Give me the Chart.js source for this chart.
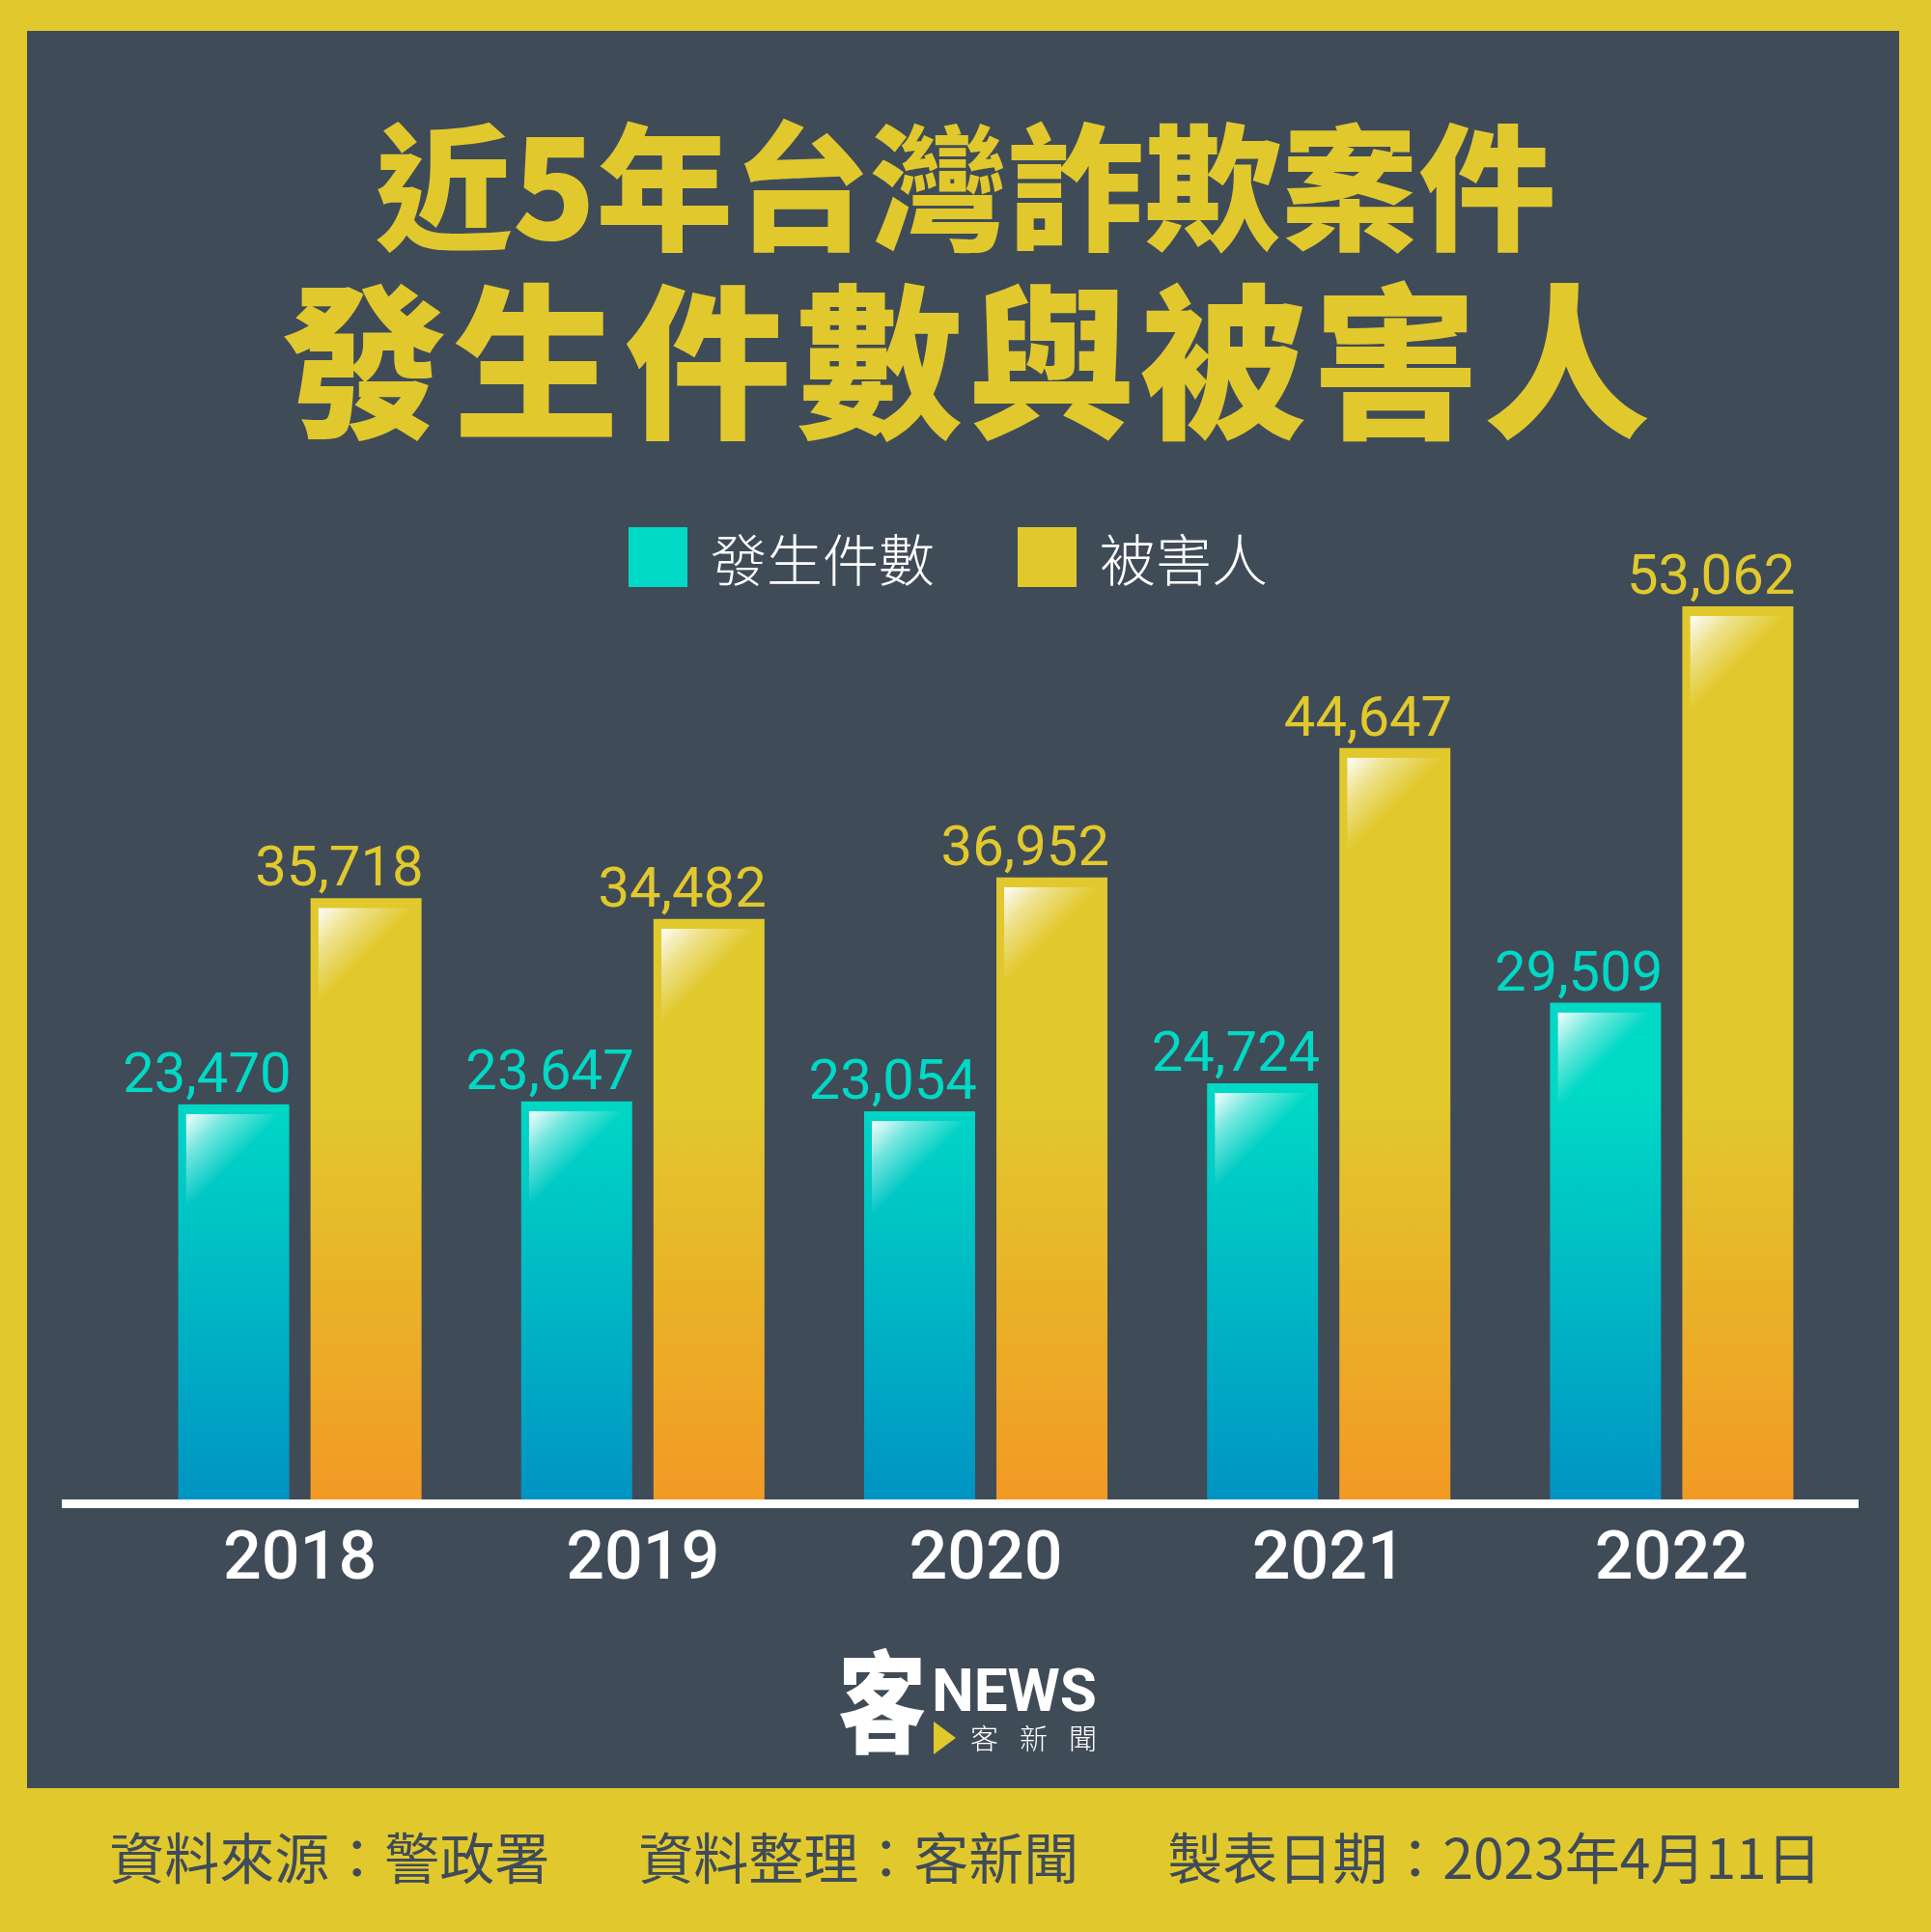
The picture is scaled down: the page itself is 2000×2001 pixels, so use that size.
<!DOCTYPE html>
<html>
<head>
<meta charset="utf-8">
<script src="https://cdn.jsdelivr.net/npm/chart.js@4.4.1/dist/chart.umd.min.js"></script>
<style>
  html, body { margin:0; padding:0; }
  body { width:2000px; height:2001px; background:#e1c92d; position:relative; overflow:hidden; font-family:"Noto Sans CJK TC","Noto Sans",sans-serif; }
  #panel { position:absolute; left:28px; top:32px; width:1939px; height:1820px; background:#404b58; }
  #chartCanvas { position:absolute; left:0; top:0; }
  .t1, .t2 { position:absolute; left:0; width:2000px; text-align:center; color:#e1c92d; font-weight:900; white-space:nowrap; }
  .t1 { top:101px; font-size:142px; line-height:170px; }
  .t2 { top:265px; font-size:172px; line-height:200px; letter-spacing:6px; padding-left:6px; box-sizing:border-box; }
  #legend { position:absolute; top:535px; left:-18px; width:2000px; display:flex; justify-content:center; align-items:center; color:#fff; font-size:58px; font-weight:300; }
  #legend .item { display:flex; align-items:center; }
  #legend .sw { width:61px; height:62px; margin-right:24px; }
  #legend .item + .item { margin-left:86px; }
  #logo { position:absolute; left:868px; top:1700px; width:300px; height:130px; color:#fff; }
  #logo .k { position:absolute; left:0; top:-8px; font-size:114px; line-height:130px; font-weight:900; transform:scaleX(0.8); transform-origin:left center; }
  #logo .n { position:absolute; left:97px; top:16px; font-family:Roboto,sans-serif; font-weight:700; font-size:62px; line-height:70px; }
  #logo .tri { position:absolute; left:99px; top:83px; width:0; height:0; border-top:17px solid transparent; border-bottom:17px solid transparent; border-left:23px solid #e1c92d; }
  #logo .s { position:absolute; left:137px; top:79px; font-size:29px; line-height:40px; letter-spacing:22px; font-weight:300; }
  #footer { position:absolute; top:1884px; left:0; width:2000px; text-align:center; color:#404b58; font-size:57px; line-height:74px; white-space:nowrap; }
  #footer span + span { margin-left:92px; }
</style>
</head>
<body>
<div id="panel"></div>
<div class="t1">近5年台灣詐欺案件</div>
<div class="t2">發生件數與被害人</div>
<div id="legend"></div>
<canvas id="chartCanvas" width="2000" height="2001"></canvas>
<div id="logo"><span class="k">客</span><span class="n">NEWS</span><span class="tri"></span><span class="s">客新聞</span></div>
<div id="footer"><span>資料來源：警政署</span><span>資料整理：客新聞</span><span>製表日期：2023年4月11日</span></div>
<script>
const years = ['2018', '2019', '2020', '2021', '2022'];
const seriesNames = ['發生件數', '被害人'];
const cases = [23470, 23647, 23054, 24724, 29509];
const victims = [35718, 34482, 36952, 44647, 53062];
const seriesColors = ['#00d9c5', '#e1c92d'];

// HTML legend
const legendEl = document.getElementById('legend');
seriesNames.forEach((n, i) => {
  const it = document.createElement('div'); it.className = 'item';
  const sw = document.createElement('div'); sw.className = 'sw'; sw.style.background = seriesColors[i];
  const tx = document.createElement('span'); tx.textContent = n;
  it.appendChild(sw); it.appendChild(tx); legendEl.appendChild(it);
});

function makeGrad(top, bottom) {
  return function(context) {
    const chart = context.chart;
    const area = chart.chartArea;
    if (!area) return top;
    const g = chart.ctx.createLinearGradient(0, area.bottom, 0, area.bottom - 420);
    g.addColorStop(0, bottom);
    g.addColorStop(1, top);
    return g;
  };
}

const glossPlugin = {
  id: 'gloss',
  afterDatasetsDraw(chart) {
    const ctx = chart.ctx;
    chart.data.datasets.forEach((ds, di) => {
      const meta = chart.getDatasetMeta(di);
      meta.data.forEach((bar) => {
        const w = bar.width;
        const L = bar.x - w / 2 + 8, T = bar.y + 10, R = bar.x + w / 2 - 10;
        const H = 95;
        ctx.save();
        ctx.beginPath(); ctx.rect(L, T, R - L, H); ctx.clip();
        const g = ctx.createLinearGradient(L, T, L + 50, T + 50);
        g.addColorStop(0, 'rgba(255,255,255,0.97)');
        g.addColorStop(0.45, 'rgba(255,255,255,0.45)');
        g.addColorStop(1, 'rgba(255,255,255,0)');
        ctx.fillStyle = g;
        ctx.fillRect(L, T, R - L, H);
        ctx.restore();
      });
    });
  }
};

const valueLabelPlugin = {
  id: 'valueLabels',
  afterDatasetsDraw(chart) {
    const ctx = chart.ctx;
    ctx.save();
    ctx.font = '400 58px Roboto, sans-serif';
    ctx.textAlign = 'right';
    ctx.textBaseline = 'alphabetic';
    chart.data.datasets.forEach((ds, di) => {
      const meta = chart.getDatasetMeta(di);
      ctx.fillStyle = seriesColors[di];
      meta.data.forEach((bar, i) => {
        ctx.fillText(ds.data[i].toLocaleString('en-US'), bar.x + bar.width / 2 + 2, bar.y - 13);
      });
    });
    ctx.restore();
  }
};

const baselinePlugin = {
  id: 'baseline',
  afterDatasetsDraw(chart) {
    const ctx = chart.ctx;
    const a = chart.chartArea;
    const y0 = chart.scales.y.getPixelForValue(0);
    ctx.save();
    ctx.fillStyle = '#ffffff';
    ctx.fillRect(a.left - 69, y0, (a.right + 16) - (a.left - 69), 9);
    ctx.restore();
  }
};

new Chart(document.getElementById('chartCanvas'), {
  type: 'bar',
  data: {
    labels: years,
    datasets: [
      { label: seriesNames[0], data: cases, backgroundColor: makeGrad('#00d9c5', '#0094c3'), borderWidth: 0 },
      { label: seriesNames[1], data: victims, backgroundColor: makeGrad('#e1c92d', '#f29a24'), borderWidth: 0 }
    ]
  },
  options: {
    responsive: false,
    devicePixelRatio: 1,
    animation: false,
    categoryPercentage: 0.7716,
    barPercentage: 0.839,
    layout: { padding: { left: 133, right: 91, top: 507, bottom: 320 } },
    plugins: { legend: { display: false }, tooltip: { enabled: false } },
    scales: {
      x: {
        grid: { display: false, drawTicks: false },
        border: { display: false },
        ticks: { color: '#ffffff', font: { family: 'Roboto, sans-serif', size: 70, weight: '500' }, padding: 22 }
      },
      y: { display: false, min: 0, max: 60000 }
    }
  },
  plugins: [glossPlugin, baselinePlugin, valueLabelPlugin]
});
</script>
</body>
</html>
